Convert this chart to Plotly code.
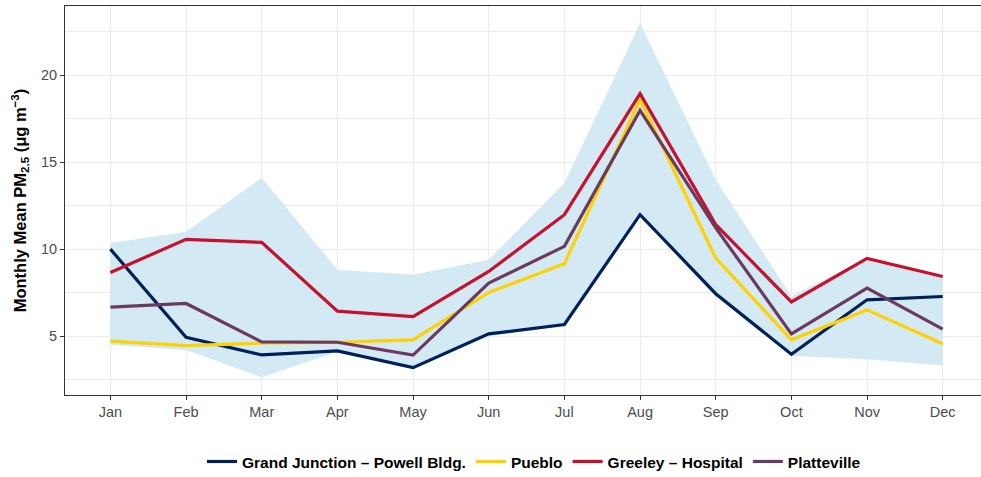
import plotly.graph_objects as go

months = ["Jan", "Feb", "Mar", "Apr", "May", "Jun", "Jul", "Aug", "Sep", "Oct", "Nov", "Dec"]

grand_junction = [10.0, 4.94, 3.92, 4.15, 3.19, 5.13, 5.67, 11.98, 7.44, 3.96, 7.09, 7.28]
pueblo = [4.71, 4.46, 4.6, 4.65, 4.79, 7.51, 9.16, 18.6, 9.49, 4.79, 6.51, 4.56]
greeley = [8.66, 10.56, 10.39, 6.44, 6.13, 8.72, 11.98, 18.93, 11.41, 6.97, 9.47, 8.43]
platteville = [6.67, 6.88, 4.67, 4.65, 3.91, 8.05, 10.16, 17.97, 11.22, 5.13, 7.76, 5.4]

band_upper = [10.35, 11.0, 14.1, 8.82, 8.53, 9.39, 13.8, 22.98, 14.0, 7.28, 9.5, 8.5]
band_lower = [4.5, 4.2, 2.64, 4.1, 3.1, 5.0, 5.6, 11.9, 7.3, 3.87, 3.68, 3.31]

series = [
    ("Grand Junction \u2013 Powell Bldg.", grand_junction, "#00205B"),
    ("Pueblo", pueblo, "#FFD100"),
    ("Greeley \u2013 Hospital", greeley, "#C8102E"),
    ("Platteville", platteville, "#6B3A5E"),
]

fig = go.Figure()

# 阴影带（下界 + 上界填充）
fig.add_trace(go.Scatter(x=months, y=band_lower, mode="lines",
                         line=dict(width=0), showlegend=False, hoverinfo="skip"))
fig.add_trace(go.Scatter(x=months, y=band_upper, mode="lines", fill="tonexty",
                         fillcolor="rgb(211,234,245)", line=dict(width=0),
                         showlegend=False, hoverinfo="skip"))

for name, vals, color in series:
    fig.add_trace(go.Scatter(x=months, y=vals, mode="lines", name=name,
                             line=dict(color=color, width=3.2)))

fig.update_layout(
    width=981, height=477,
    template="plotly_white",
    plot_bgcolor="white", paper_bgcolor="white",
    font=dict(family="Liberation Sans, Arial, sans-serif", size=14, color="#4D4D4D"),
    margin=dict(l=65, r=0, t=6, b=82, autoexpand=False),
    legend=dict(orientation="h", x=0.512, xanchor="center", y=-0.172, yanchor="middle",
                font=dict(size=15.5, color="black", weight="bold"),
                itemwidth=30, tracegroupgap=0, traceorder="normal"),
)
fig.update_xaxes(
    type="category", range=[-0.6, 11.506], automargin=False,
    showgrid=True, gridcolor="#EBEBEB", gridwidth=1.1,
    showline=True, linecolor="#333333", linewidth=1.1, mirror=True,
    ticks="outside", ticklen=4, tickcolor="#333333",
    tickfont=dict(size=14.5, color="#4D4D4D"), zeroline=False,
)
fig.update_yaxes(
    range=[1.62, 23.97], tickvals=[5, 10, 15, 20], automargin=False,
    showgrid=True, gridcolor="#EBEBEB", gridwidth=1.1,
    minor=dict(tickvals=[2.5, 7.5, 12.5, 17.5, 22.5], showgrid=True,
               gridcolor="#EBEBEB", gridwidth=0.6),
    showline=True, linecolor="#333333", linewidth=1.1,
    ticks="outside", ticklen=4, tickcolor="#333333",
    tickfont=dict(size=14.5, color="#4D4D4D"), zeroline=False,
    title=dict(text="<b>Monthly Mean PM<sub>2.5</sub> (\u03bcg m<sup>\u22123</sup>)</b>",
               font=dict(size=16.5, color="black"), standoff=10),
)

fig.write_html("out.html", config={"displayModeBar": False},
               post_script="document.body.style.margin='0';")
